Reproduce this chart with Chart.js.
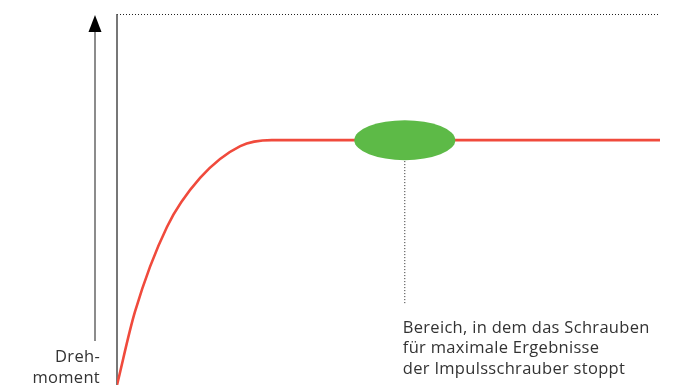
<!DOCTYPE html>
<html lang="de">
<head>
    <meta charset="UTF-8">
    <title>Drehmoment Impulsschrauber</title>
    <script src="https://cdn.jsdelivr.net/npm/chart.js"></script>
    <style>
        html, body { margin: 0; padding: 0; background: #fff; }
        .wrap { width: 678px; height: 385px; position: relative; }
    </style>
</head>
<body>
    <div class="wrap"><canvas id="torqueChart"></canvas></div>

    <script>
        // torque curve (x = time, y = torque, both 0..100)
        const torqueX = [0, 3.3, 9.2, 15.3, 22.7, 28.5, 100];
        const torqueY = [0, 19.7, 42.6, 55.8, 64.4, 66, 66];

        // stop zone on the plateau and its leader line
        const stopX = 53;
        const stopY = 66;
        const leaderEndY = 21.6;

        const axisLabel = ["Dreh-", "moment"];
        const noteLines = ["Bereich, in dem das Schrauben", "für maximale Ergebnisse", "der Impulsschrauber stoppt"];

        const curveData = torqueX.map((x, i) => ({ x: x, y: torqueY[i] }));
        const leaderData = [{ x: stopX, y: stopY }, { x: stopX, y: leaderEndY }];

        const labelFont = "16.5px 'Open Sans', 'Liberation Sans', sans-serif";

        const decor = {
            id: "decor",
            beforeDatasetsDraw(chart) {
                const ctx = chart.ctx;
                const a = chart.chartArea;
                ctx.save();
                // top dotted line
                ctx.strokeStyle = "#222";
                ctx.lineWidth = 1;
                ctx.setLineDash([1, 2]);
                ctx.beginPath();
                ctx.moveTo(a.left, a.top + 0.5);
                ctx.lineTo(a.right, a.top + 0.5);
                ctx.stroke();
                ctx.setLineDash([]);
                // left axis line
                ctx.strokeStyle = "#555";
                ctx.lineWidth = 1.6;
                ctx.beginPath();
                ctx.moveTo(a.left, a.top);
                ctx.lineTo(a.left, a.bottom);
                ctx.stroke();
                ctx.restore();
            },
            afterDatasetsDraw(chart) {
                const ctx = chart.ctx;
                const a = chart.chartArea;
                const xs = chart.scales.x, ys = chart.scales.y;
                ctx.save();
                // green ellipse
                const cx = xs.getPixelForValue(stopX);
                const cy = ys.getPixelForValue(stopY);
                ctx.fillStyle = "#5dba47";
                ctx.beginPath();
                ctx.ellipse(cx, cy, 50.5, 20, 0, 0, Math.PI * 2);
                ctx.fill();

                // note text
                ctx.fillStyle = "#333";
                ctx.font = labelFont;
                ctx.letterSpacing = "0.3px";
                ctx.textAlign = "left";
                ctx.textBaseline = "alphabetic";
                noteLines.forEach((t, i) => ctx.fillText(t, cx - 2, 333 + i * 20.3));

                // y-axis arrow
                const ax = a.left - 22;
                ctx.strokeStyle = "#666";
                ctx.lineWidth = 1.5;
                ctx.beginPath();
                ctx.moveTo(ax, 28);
                ctx.lineTo(ax, 341);
                ctx.stroke();
                ctx.fillStyle = "#000";
                ctx.beginPath();
                ctx.moveTo(ax, 15);
                ctx.lineTo(ax - 6.5, 32);
                ctx.lineTo(ax + 6.5, 32);
                ctx.closePath();
                ctx.fill();

                ctx.fillStyle = "#333";
                ctx.textAlign = "right";
                axisLabel.forEach((t, i) => ctx.fillText(t, a.left - 17, 362 + i * 21));
                ctx.restore();
            }
        };

        new Chart(document.getElementById("torqueChart"), {
            type: "line",
            data: {
                datasets: [
                    {
                        data: curveData,
                        borderColor: "#f04a3c",
                        borderWidth: 2.6,
                        pointRadius: 0,
                        cubicInterpolationMode: "monotone",
                        fill: false
                    },
                    {
                        data: leaderData,
                        borderColor: "#222",
                        borderWidth: 1,
                        borderDash: [1, 2],
                        pointRadius: 0,
                        fill: false
                    }
                ]
            },
            plugins: [decor],
            options: {
                responsive: true,
                maintainAspectRatio: false,
                animation: false,
                layout: { padding: { left: 117, right: 18, top: 14, bottom: 0 } },
                plugins: { legend: { display: false }, tooltip: { enabled: false } },
                scales: {
                    x: { type: "linear", min: 0, max: 100, display: false },
                    y: { min: 0, max: 100, display: false }
                }
            }
        });
    </script>
</body>
</html>
